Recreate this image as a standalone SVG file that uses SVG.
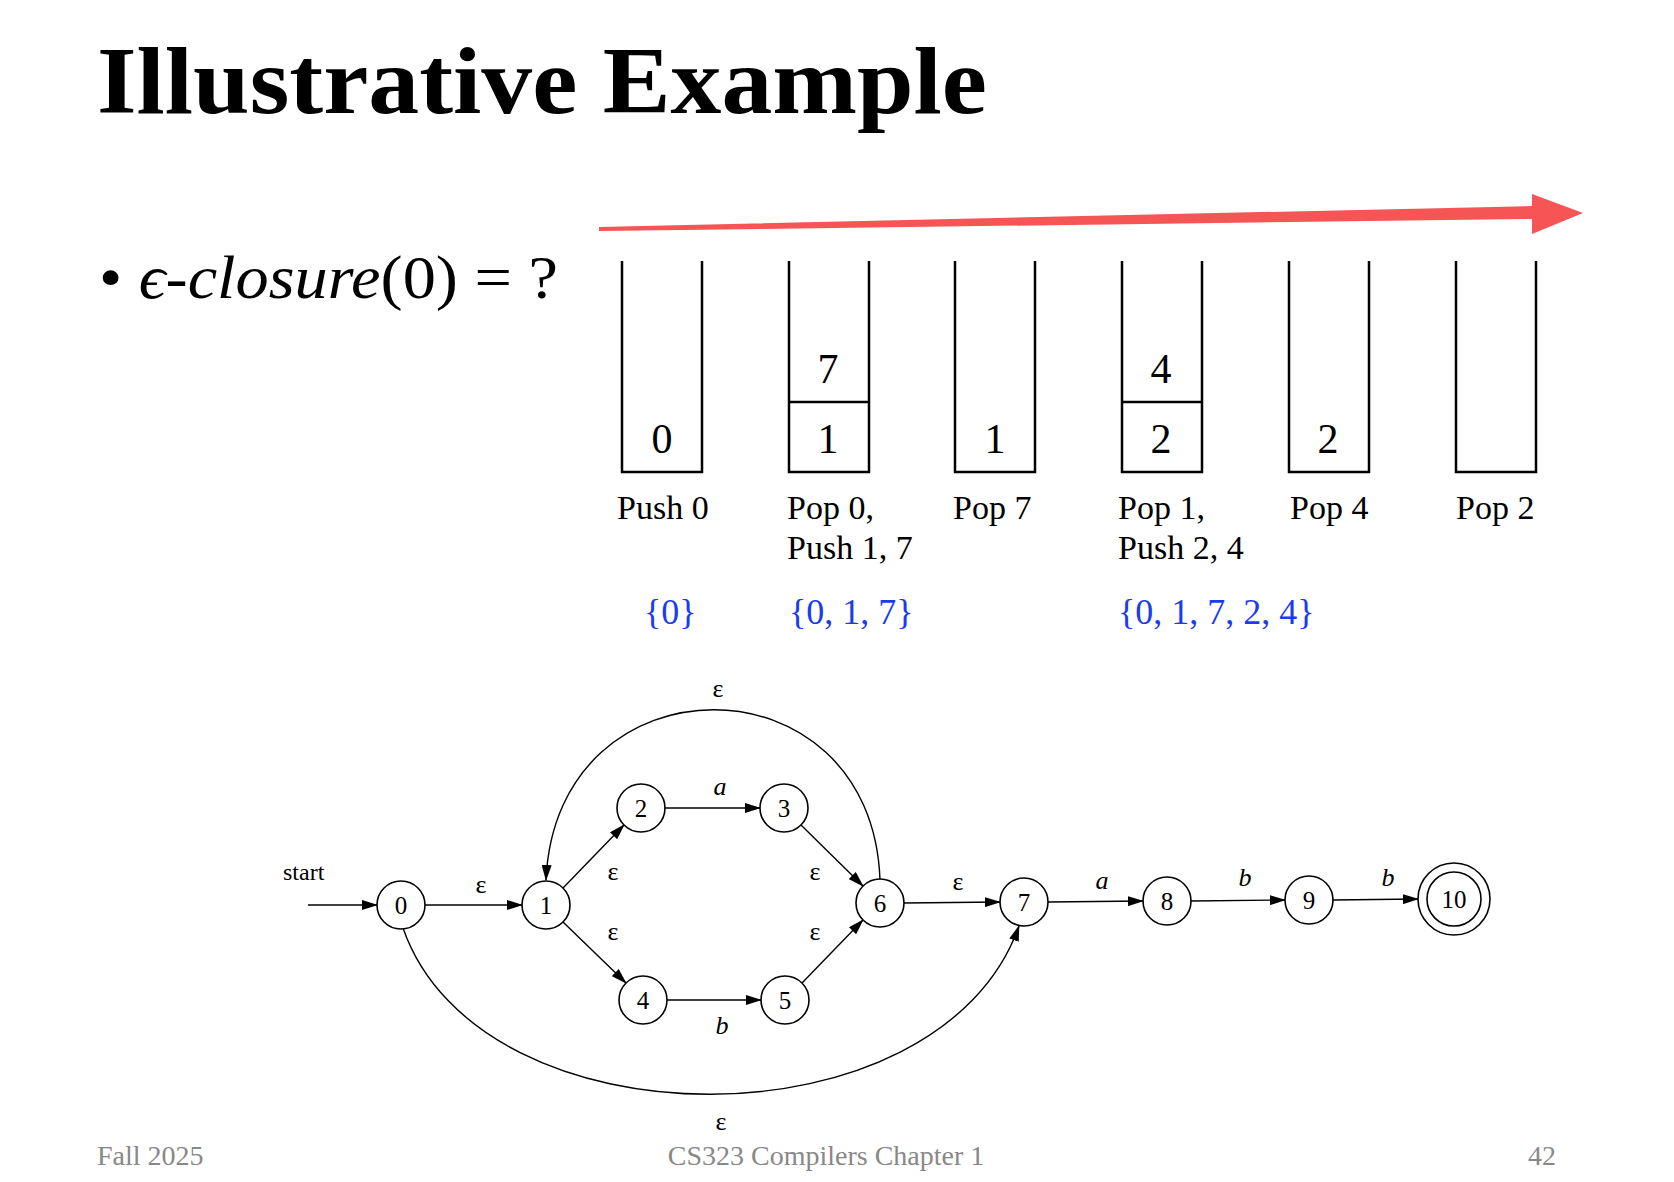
<svg xmlns="http://www.w3.org/2000/svg" width="1674" height="1182" viewBox="0 0 1674 1182">
<style>
.serif{font-family:"Liberation Serif","DejaVu Serif",serif}
.stk{fill:none;stroke:#000;stroke-width:2.5}
.num{font-family:"Liberation Serif",serif;font-size:42px;text-anchor:middle}
.lbl{font-family:"Liberation Serif",serif;font-size:34px}
.set{font-family:"Liberation Serif",serif;font-size:36px;fill:#1a3cf0}
.nd{fill:#fff;stroke:#000;stroke-width:1.6}
.nt{font-family:"Liberation Serif",serif;font-size:25px;text-anchor:middle}
.e{fill:none;stroke:#000;stroke-width:1.4;marker-end:url(#ah)}
.el{font-family:"Liberation Serif",serif;font-size:26px;text-anchor:middle}
.it{font-style:italic}
.ft{font-family:"Liberation Serif",serif;font-size:28px;fill:#888}
</style>
<defs>
<marker id="ah" markerUnits="userSpaceOnUse" markerWidth="16" markerHeight="10" refX="15" refY="5" orient="auto"><path d="M0,0 L16,5 L0,10 Z" fill="#000"/></marker>
</defs>
<text class="serif" x="97" y="113" font-size="96" font-weight="bold" textLength="890" lengthAdjust="spacingAndGlyphs">Illustrative Example</text>
<polygon points="599,227 1532,206 1532,194 1583,213 1532,234 1532,219 599,231" fill="#f55555"/>
<text class="serif" x="99" y="298" font-size="62" textLength="459" lengthAdjust="spacingAndGlyphs">• <tspan font-style="italic">ϵ-closure</tspan>(0) = ?</text>
<g id="stacks">
<path class="stk" d="M622,261 V472 H702 V261"/>
<path class="stk" d="M789,261 V472 H869 V261 M789,402 H869"/>
<path class="stk" d="M955,261 V472 H1035 V261"/>
<path class="stk" d="M1122,261 V472 H1202 V261 M1122,402 H1202"/>
<path class="stk" d="M1289,261 V472 H1369 V261"/>
<path class="stk" d="M1456,261 V472 H1536 V261"/>
<text class="num" x="662" y="453">0</text>
<text class="num" x="828" y="383">7</text><text class="num" x="828" y="453">1</text>
<text class="num" x="995" y="453">1</text>
<text class="num" x="1161" y="383">4</text><text class="num" x="1161" y="453">2</text>
<text class="num" x="1328" y="453">2</text>
<text class="lbl" x="617" y="519">Push 0</text>
<text class="lbl" x="787" y="519">Pop 0,</text><text class="lbl" x="787" y="559">Push 1, 7</text>
<text class="lbl" x="953" y="519">Pop 7</text>
<text class="lbl" x="1118" y="519">Pop 1,</text><text class="lbl" x="1118" y="559">Push 2, 4</text>
<text class="lbl" x="1290" y="519">Pop 4</text>
<text class="lbl" x="1456" y="519">Pop 2</text>
<text class="set" x="644" y="624">{0}</text>
<text class="set" x="789" y="624">{0, 1, 7}</text>
<text class="set" x="1118" y="624">{0, 1, 7, 2, 4}</text>
</g>
<g id="connectors">
<line class="e" x1="308" y1="905" x2="377" y2="905"/>
<line class="e" x1="425" y1="905" x2="522" y2="905"/>
<line class="e" x1="563" y1="888" x2="624" y2="825"/>
<line class="e" x1="563" y1="922" x2="626" y2="983"/>
<line class="e" x1="665" y1="808" x2="760" y2="808"/>
<line class="e" x1="667" y1="1000" x2="761" y2="1000"/>
<line class="e" x1="801" y1="825" x2="863" y2="886"/>
<line class="e" x1="802" y1="983" x2="863" y2="920"/>
<line class="e" x1="904" y1="903" x2="1000" y2="902"/>
<line class="e" x1="1048" y1="902" x2="1143" y2="901"/>
<line class="e" x1="1191" y1="901" x2="1285" y2="900"/>
<line class="e" x1="1333" y1="900" x2="1418" y2="899"/>
<path class="e" d="M880,880 C872,653 556,653 546,880"/>
<path class="e" d="M403,928 C480,1150 940,1150 1019,926"/>
<text class="serif" x="283" y="880" font-size="24">start</text>
<text class="el" x="481" y="893">ε</text>
<text class="el" x="613" y="880">ε</text>
<text class="el" x="613" y="940">ε</text>
<text class="el" x="815" y="880">ε</text>
<text class="el" x="815" y="940">ε</text>
<text class="el" x="958" y="890">ε</text>
<text class="el" x="718" y="697">ε</text>
<text class="el" x="721" y="1130">ε</text>
<text class="el it" x="720" y="795">a</text>
<text class="el it" x="722" y="1034">b</text>
<text class="el it" x="1102" y="889">a</text>
<text class="el it" x="1245" y="886">b</text>
<text class="el it" x="1388" y="886">b</text>
</g>
<g id="n0"><circle class="nd" cx="401" cy="905" r="24"/><text class="nt" x="401" y="914">0</text></g>
<g id="n1"><circle class="nd" cx="546" cy="905" r="24"/><text class="nt" x="546" y="914">1</text></g>
<g id="n2"><circle class="nd" cx="641" cy="808" r="24"/><text class="nt" x="641" y="817">2</text></g>
<g id="n3"><circle class="nd" cx="784" cy="808" r="24"/><text class="nt" x="784" y="817">3</text></g>
<g id="n4"><circle class="nd" cx="643" cy="1000" r="24"/><text class="nt" x="643" y="1009">4</text></g>
<g id="n5"><circle class="nd" cx="785" cy="1000" r="24"/><text class="nt" x="785" y="1009">5</text></g>
<g id="n6"><circle class="nd" cx="880" cy="903" r="24"/><text class="nt" x="880" y="912">6</text></g>
<g id="n7"><circle class="nd" cx="1024" cy="902" r="24"/><text class="nt" x="1024" y="911">7</text></g>
<g id="n8"><circle class="nd" cx="1167" cy="901" r="24"/><text class="nt" x="1167" y="910">8</text></g>
<g id="n9"><circle class="nd" cx="1309" cy="900" r="24"/><text class="nt" x="1309" y="909">9</text></g>
<g id="n10"><circle class="nd" cx="1454" cy="899" r="36"/><circle class="nd" cx="1454" cy="899" r="27"/><text class="nt" x="1454" y="908">10</text></g>
<text class="ft" x="97" y="1165">Fall 2025</text>
<text class="ft" x="826" y="1165" text-anchor="middle">CS323 Compilers Chapter 1</text>
<text class="ft" x="1556" y="1165" text-anchor="end">42</text>
</svg>
